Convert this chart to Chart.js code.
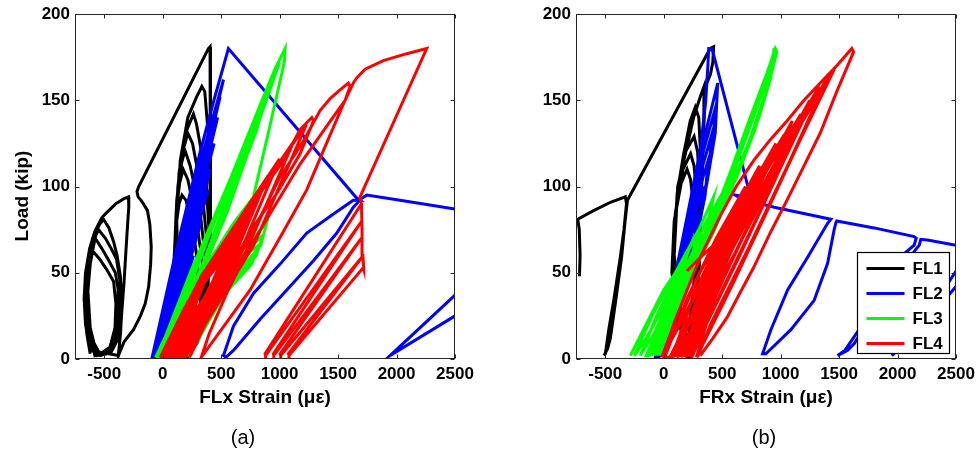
<!DOCTYPE html>
<html>
<head>
<meta charset="utf-8">
<script src="https://cdn.jsdelivr.net/npm/chart.js@4.4.0/dist/chart.umd.min.js"></script>
<style>
  html, body { margin: 0; padding: 0; background: #fff; }
  body { position: relative; width: 976px; height: 452px; overflow: hidden; font-family: "Liberation Sans", Arial, sans-serif; }
  #panelA { position: absolute; left: 0; top: 0; }
  #panelB { position: absolute; left: 488px; top: 0; }
  .caption { position: absolute; top: 424px; width: 60px; text-align: center; font-size: 20px; line-height: 26px; color: #000; }
</style>
</head>
<body>
<canvas id="panelA" width="488" height="452"></canvas>
<canvas id="panelB" width="500" height="452"></canvas>
<div class="caption" style="left:213px">(a)</div>
<div class="caption" style="left:734px">(b)</div>

<script>
"use strict"

const strainTicks = [-500, 0, 500, 1000, 1500, 2000, 2500];
const loadTicks = [0, 50, 100, 150, 200];
const gaugeNames = ['FL1', 'FL2', 'FL3', 'FL4'];
const gaugeColors = ['#000000', '#0000ff', '#00ff00', '#ff0000'];

// [strain, load] pairs, null = pen up

/*** FLx gauge ***/
const flxFL1 = [
  [-620,3],[-650,15],[-660,30],[-645,48],[-610,60],[-591,62],[-540,58],[-480,52],[-420,45],[-400,32],[-408,18],[-450,7],[-530,3],[-580,2],
  [-630,15],[-645,35],[-620,55],[-590,66],[-577,70],[-520,64],[-460,57],[-405,50],[-380,40],[-382,25],[-410,10],[-480,3],[-560,2],
  [-620,18],[-640,40],[-610,62],[-570,72],[-549,75],[-490,70],[-440,64],[-395,58],[-365,45],[-360,28],[-380,12],[-440,4],[-530,2],
  [-610,12],[-655,28],[-662,42],[-645,56],[-600,70],[-540,78],[-506,81],[-460,76],[-420,68],[-390,60],[-362,48],[-350,30],[-360,15],[-380,2],
  [-620,5],[-660,20],[-672,35],[-660,50],[-625,64],[-580,74],[-520,82],[-477,85],[-400,90],[-330,93],[-292,94],[-290,88],[-300,78],[-315,62],[-330,45],[-350,27],[-365,12],[-378,2],
  [-330,10],[-250,17],[-190,25],[-150,32],[-120,42],[-103,55],[-98,65],[-110,78],[-130,86],[-165,90],[-185,92],[-210,94],[-220,97],[-205,100],
  [391,180],[405,181],[412,178],[412,165],[410,140],[407,120],[406,100],[408,85],[406,73],[395,60],[377,50],[340,35],[292,24],[250,14],[205,4],[190,1],
  [150,15],[110,35],[95,55],[110,75],[140,90],[165,95],[200,92],[260,75],[300,55],[290,35],[250,18],[205,3],
  [160,12],[115,35],[100,60],[115,85],[145,102],[175,110],[215,104],[290,80],[340,55],[320,30],[260,12],[210,2],
  [165,14],[120,38],[105,65],[120,92],[155,112],[190,121],[235,112],[320,85],[370,55],[350,28],[280,10],[215,2],
  [170,15],[125,40],[110,70],[130,100],[170,120],[215,131],[255,125],[340,95],[390,60],[370,30],[290,10],[220,2],
  [175,15],[130,42],[115,75],[140,108],[190,130],[263,142],[290,136],[370,105],[400,70],[385,35],[300,10],[225,2],
  [180,15],[135,45],[120,80],[150,115],[215,140],[290,152],[335,158],[360,155],[390,130],[405,100],[405,70],[385,40],[310,12],[230,2]
];
const flxFL2 = [
  [-30,1],[47,20],[143,40],[263,60],[175,40],[79,20],[-10,1],
  [-40,1],[62,26],[184,53],[330,80],[216,53],[94,26],[-20,1],
  [-50,1],[75,32],[220,65],[390,98],[252,65],[107,32],[-30,1],
  [-60,1],[75,36],[230,73],[410,110],[262,73],[107,36],[-40,1],
  [-65,1],[82,41],[248,83],[440,125],[280,83],[114,41],[-45,1],
  [-70,1],[88,46],[266,92],[470,140],[298,92],[120,46],[-50,1],
  [-80,1],[88,50],[277,100],[491,152],[309,100],[120,50],[-60,1],
  [-85,1],[95,53],[294,107],[520,162],[326,107],[127,53],[-65,1],
  [-90,1],[105,60],[320,120],[438,150],[562,180],
  [1650,94],[1690,92],[1630,92],[1460,84],[1232,73],[1004,55],[776,38],[605,19],[520,2],[540,1],[605,5],[833,23],[1061,40],[1289,57],[1489,73],[1631,88],[1700,93],
  [1745,95],[2030,92],[2500,87],
  null,
  [2500,37],[1945,2],[2500,25]
];
const flxFL3 = [
  [-50,1],[140,30],[310,58],[500,90],[560,95],[520,80],[380,60],[220,35],[30,5],[0,1],
  [-45,1],[247,52],[600,103],[327,52],[-15,1],
  [-40,1],[150,30],[330,60],[520,93],[640,112],[600,98],[470,75],[300,48],[120,20],[10,1],
  [-35,1],[292,59],[680,118],[372,59],[-5,1],
  [-30,1],[160,32],[340,62],[540,96],[720,126],[660,108],[520,82],[340,55],[150,24],[20,1],
  [-25,1],[337,66],[760,133],[417,66],[5,1],
  [-20,1],[170,33],[350,64],[560,100],[800,141],[720,118],[560,88],[380,60],[180,28],[30,1],
  [-15,1],[382,73],[840,146],[462,73],[15,1],
  [-10,1],[180,34],[360,66],[580,104],[904,157],[800,132],[620,100],[430,68],[220,35],[40,1],
  [0,1],[445,81],[950,163],[525,81],[30,1],
  [10,1],[475,86],[1000,172],[555,86],[40,1],
  [250,25],[520,50],[820,66],[760,55],[560,40],[330,20],[120,1],
  [330,25],[600,55],[860,72],[800,60],[600,45],[380,22],[170,1],
  [380,28],[640,60],[890,79],[840,66],[640,50],[420,25],[220,1],
  null,
  [-60,1],[160,33],[360,66],[600,108],[850,150],[960,168],[1047,180],[1040,172],[900,130],[776,94],[600,78],[391,56],[200,30],[60,5],[20,1]
];
const flxFL4 = [
  [-20,1],[190,30],[560,62],[350,35],[30,1],
  [-10,1],[215,33],[620,70],[390,38],[50,1],
  [0,1],[240,36],[680,78],[430,42],[70,1],
  [10,1],[270,40],[750,86],[480,46],[90,1],
  [20,1],[300,44],[820,96],[530,50],[110,1],
  [40,1],[330,48],[900,106],[580,54],[130,1],
  [60,1],[370,52],[1000,116],[640,58],[150,1],
  [80,1],[410,56],[1120,126],[710,62],[170,1],
  [100,1],[450,60],[1230,136],[780,66],[190,1],
  [150,1],[460,50],[748,88],[1032,115],[1175,133],[1275,140],[1289,138],[1175,119],[976,96],[748,74],[520,45],[300,15],[230,1],
  [500,40],[780,75],[1000,105],[1200,126],[1346,144],[1432,151],[1517,156],[1588,160],[1603,158],[1560,150],[1403,135],[1175,113],[890,81],[748,65],[560,40],[400,15],[330,1],
  [748,40],[1000,70],[1232,98],[1420,128],[1560,150],[1630,160],[1660,163],[1731,168],[1887,173],[2087,177],[2258,180],
  [1688,94],[1700,90],[876,3],[880,2],[1703,80],[947,3],[950,2],[1700,70],[1004,3],[1010,2],[1716,60],[1075,3],[1080,2],[1716,53],[1720,52],[1712,60],[1705,75],[1700,90]
];

/*** FRx gauge ***/
const frxFL1 = [
  [-720,48],[-715,60],[-722,75],[-735,81],[-600,86],[-450,91],[-328,94],[-318,90],[-340,75],[-371,59],[-427,34],[-470,17],[-499,3],[-510,2],[-480,6],[-456,12],[-410,34],[-360,59],[-330,80],[-310,92],
  [398,180],[427,181],[420,172],[400,165],[356,158],[342,131],[327,102],[299,73],[270,53],[230,25],[200,1],
  [120,25],[70,50],[90,80],[150,102],[200,110],[230,104],[270,80],[280,55],[255,25],[215,1],
  [125,27],[75,52],[100,85],[165,110],[230,119],[260,112],[295,85],[295,55],[265,25],[225,1],
  [130,28],[80,55],[110,90],[185,120],[260,129],[290,120],[315,90],[305,55],[270,25],[230,1],
  [135,30],[85,58],[115,96],[171,119],[227,138],[270,146],[300,140],[325,105],[310,65],[275,28],[235,1],
  [140,30],[90,60],[120,100],[199,123],[256,140],[313,152],[345,158],[342,131],[327,102],[299,73],[270,50],[240,20],[220,1]
];
const frxFL2 = [
  [-40,1],[40,22],[130,45],[200,58],[260,70],[240,58],[195,45],[140,30],[80,16],[10,4],[-45,1],
  [45,26],[145,52],[230,70],[300,85],[275,70],[230,55],[170,37],[105,22],[20,6],[-50,1],
  [55,30],[165,60],[260,82],[340,100],[315,83],[265,65],[200,45],[125,27],[30,8],[-55,1],
  [65,33],[180,66],[285,94],[380,115],[355,95],[295,75],[225,52],[145,32],[40,10],[-60,1],
  [70,36],[190,72],[300,104],[410,130],[385,108],[320,85],[245,60],[160,37],[50,12],[-65,1],
  [75,40],[195,77],[305,112],[440,145],[415,120],[345,95],[265,68],[175,42],[60,14],[-70,1],
  [80,42],[198,80],[310,118],[462,160],[441,131],[370,102],[285,73],[190,45],[70,15],[-72,1],
  [85,44],[199,82],[313,121],[360,150],[378,170],[385,180],[413,180],[745,93.5],[612,95],[661,93],[945,88],[1430,81],
  [1402,78.7],[1231,59],[1060,40],[917,17],[846,3],[874,3],[1088,17],[1287,34],[1402,55.5],[1458,75],[1473,79],[1480,80],
  [1800,76],[2142,71],[2160,70],
  [2142,66],[2057,61],[1900,45],[1700,20],[1550,5],[1487,2],[1573,5],[1630,9],[1800,28],[2000,48],[2150,63],[2186,66],[2199,69.4],[2256,69],[2500,66],
  null,
  [2500,51],[2300,30],[2100,12],[1951,2],[2150,14],[2350,30],[2500,42]
];
const frxFL3 = [
  [-285,2],[-150,20],[0,40],[200,60],[150,50],[0,30],[-150,12],[-250,2],
  [-100,25],[100,50],[300,75],[250,62],[100,42],[-80,15],[-200,2],
  [-60,25],[120,50],[280,72],[427,94],[400,86],[385,79],[300,65],[150,45],[0,22],[-130,2],
  [-150,2],[0,25],[180,50],[350,78],[500,96],[460,88],[330,70],[180,48],[30,25],[-120,2],
  [50,30],[250,55],[420,82],[580,110],[740,140],[880,165],[954,180],[968,178],[900,160],[780,133],[640,108],[500,86],[350,65],[180,40],[0,15],[-100,2],
  [70,30],[270,56],[440,84],[600,112],[760,142],[895,167],[960,180],[940,172],[870,153],[760,130],[620,105],[484,84],[342,63],[170,38],[-10,12],[-80,2],
  [90,32],[290,58],[460,86],[620,115],[780,145],[910,170],[950,180],[930,170],[850,150],[740,128],[600,104],[470,82],[320,60],[140,33],[-40,8],[-60,2],
  [110,34],[310,60],[480,88],[640,118],[800,148],[925,172],[948,180],[920,166],[830,145],[720,124],[580,100],[450,78],[300,57],[120,30],[-30,6],[-40,2],
  [130,36],[330,62],[500,90],[660,120],[820,150],[935,174],[944,180],[915,163],[815,140],[700,120],[560,96],[430,74],[280,54],[100,27],[-20,5],[-30,2]
];
const frxFL4 = [
  [199,51],[300,58],[427,66],[380,55],[250,35],[100,15],[-20,1],
  [150,25],[317,51],[560,80],[774,103],[600,78],[414,51],[230,25],[53,1],
  [10,1],[200,35],[450,70],[700,100],[560,75],[380,45],[150,10],[70,1],
  [220,30],[425,60],[680,92],[917,119],[710,89],[501,60],[290,30],[84,1],
  [260,38],[520,75],[820,112],[640,80],[440,48],[200,12],[110,1],
  [270,32],[497,65],[760,100],[1031,130],[800,98],[576,65],[350,32],[121,1],
  [320,42],[600,82],[960,125],[740,88],[500,50],[250,14],[150,1],
  [330,35],[587,71],[870,108],[1174,142],[925,107],[677,71],[430,36],[180,1],
  [380,45],[690,88],[1100,138],[850,95],[570,55],[300,15],[190,1],
  [400,40],[695,79],[1000,120],[1330,158],[1050,118],[777,79],[500,40],[224,1],
  [450,50],[800,95],[1250,150],[960,105],[650,60],[350,18],[240,1],
  [460,42],[782,84],[1100,128],[1460,168],[1160,126],[872,84],[580,42],[280,1],
  [520,55],[900,104],[1400,163],[1080,115],[730,65],[400,20],[290,1],
  null,
  [-10,1],[85,20],[200,40],[320,60],[484,83],[620,100],[769,115],[910,127],[1054,138],[1200,150],[1339,160],[1480,170],[1609,180],
  [1624,178],[1480,155],[1339,131],[1200,112],[1054,92],[910,73],[769,53],[650,38],[541,24],[420,12],[313,2]
];

function toXY(pairs) {
  return pairs.map(p => p ? { x: p[0], y: p[1] } : { x: null, y: null });
}

// box round the plot with small inward ticks on all four sides
const frameBox = {
  id: 'frameBox',
  afterDatasetsDraw(chart) {
    const { ctx, chartArea: a, scales } = chart;
    const l = Math.round(a.left) + 0.5, r = Math.round(a.right) - 0.5;
    const t = Math.round(a.top) + 0.5, b = Math.round(a.bottom) - 0.5;
    ctx.save();
    ctx.strokeStyle = '#262626';
    ctx.lineWidth = 1;
    ctx.beginPath();
    strainTicks.forEach(v => {
      const px = Math.round(scales.x.getPixelForValue(v)) + 0.5;
      ctx.moveTo(px, b); ctx.lineTo(px, b - 4);
      ctx.moveTo(px, t); ctx.lineTo(px, t + 4);
    });
    loadTicks.forEach(v => {
      const py = Math.round(scales.y.getPixelForValue(v)) + 0.5;
      ctx.moveTo(l, py); ctx.lineTo(l + 4, py);
      ctx.moveTo(r, py); ctx.lineTo(r - 4, py);
    });
    ctx.stroke();
    ctx.strokeRect(l, t, r - l, b - t);
    ctx.restore();
  }
};

// legend box in the lower right corner of the plot
const boxLegend = {
  id: 'boxLegend',
  afterDraw(chart) {
    const { ctx, chartArea: a } = chart;
    const w = 92, h = 101;
    const x0 = Math.round(a.right - 7 - w) + 0.5, y0 = Math.round(a.bottom - 6 - h) + 0.5;
    ctx.save();
    ctx.fillStyle = '#fff';
    ctx.fillRect(x0, y0, w, h);
    ctx.strokeStyle = '#000';
    ctx.lineWidth = 1.2;
    ctx.strokeRect(x0, y0, w, h);
    ctx.font = 'bold 17px "Liberation Sans", Arial, sans-serif';
    ctx.textBaseline = 'middle';
    chart.data.datasets.forEach((ds, i) => {
      const yy = y0 + 16 + i * 25;
      ctx.strokeStyle = ds.borderColor;
      ctx.lineWidth = 3;
      ctx.beginPath();
      ctx.moveTo(x0 + 9, yy);
      ctx.lineTo(x0 + 47, yy);
      ctx.stroke();
      ctx.fillStyle = '#000';
      ctx.fillText(ds.label, x0 + 55, yy + 1);
    });
    ctx.restore();
  }
};

let makePanel = function (canvasId, series, xTitle, opts) {
  const datasets = series.map((pairs, i) => ({
    label: gaugeNames[i],
    data: toXY(pairs),
    showLine: true,
    borderColor: gaugeColors[i],
    backgroundColor: gaugeColors[i],
    borderWidth: 3,
    pointRadius: 0,
    pointHoverRadius: 0,
    tension: 0,
    spanGaps: false,
    order: series.length - i   // FL4 ends up on top
  }));

  const tickFont = { family: '"Liberation Sans", Arial, sans-serif', size: 17, weight: 'bold', lineHeight: 1 };
  const titleFont = { family: '"Liberation Sans", Arial, sans-serif', size: 19, weight: 'bold' };

  return new Chart(document.getElementById(canvasId), {
    type: 'scatter',
    data: { datasets: datasets },
    plugins: opts.legend ? [frameBox, boxLegend] : [frameBox],
    options: {
      responsive: false,
      animation: false,
      events: [],
      layout: { padding: { top: 14, right: opts.padRight, left: 0, bottom: 0 } },
      plugins: {
        legend: { display: false },
        tooltip: { enabled: false }
      },
      scales: {
        x: {
          type: 'linear',
          min: -750,
          max: 2500,
          grid: { display: false, drawTicks: false },
          border: { display: false },
          afterBuildTicks: s => { s.ticks = strainTicks.map(v => ({ value: v })); },
          afterFit: s => { s.height = 93; },
          ticks: { color: '#000', font: tickFont, padding: 7, maxRotation: 0, autoSkip: false, callback: v => String(v) },
          title: { display: true, text: xTitle, color: '#000', font: titleFont, padding: { top: 0, bottom: 43 } }
        },
        y: {
          type: 'linear',
          min: 0,
          max: 200,
          grid: { display: false, drawTicks: false },
          border: { display: false },
          afterBuildTicks: s => { s.ticks = loadTicks.map(v => ({ value: v })); },
          afterFit: s => { s.width = opts.yWidth; },
          ticks: { color: '#000', font: tickFont, padding: 5, autoSkip: false, callback: v => String(v) },
          // en spaces after the text push the rotated label a little lower
          title: { display: opts.yTitle, text: 'Load (kip)\u2002\u2002', color: '#000', font: titleFont, padding: { top: 11, bottom: 0 } }
        }
      }
    }
  });
};

makePanel('panelA', [flxFL1, flxFL2, flxFL3, flxFL4], 'FLx Strain (\u03bc\u03b5)', { yWidth: 75, padRight: 33, yTitle: true, legend: false });
makePanel('panelB', [frxFL1, frxFL2, frxFL3, frxFL4], 'FRx Strain (\u03bc\u03b5)', { yWidth: 88, padRight: 32, yTitle: false, legend: true });
</script>
</body>
</html>
